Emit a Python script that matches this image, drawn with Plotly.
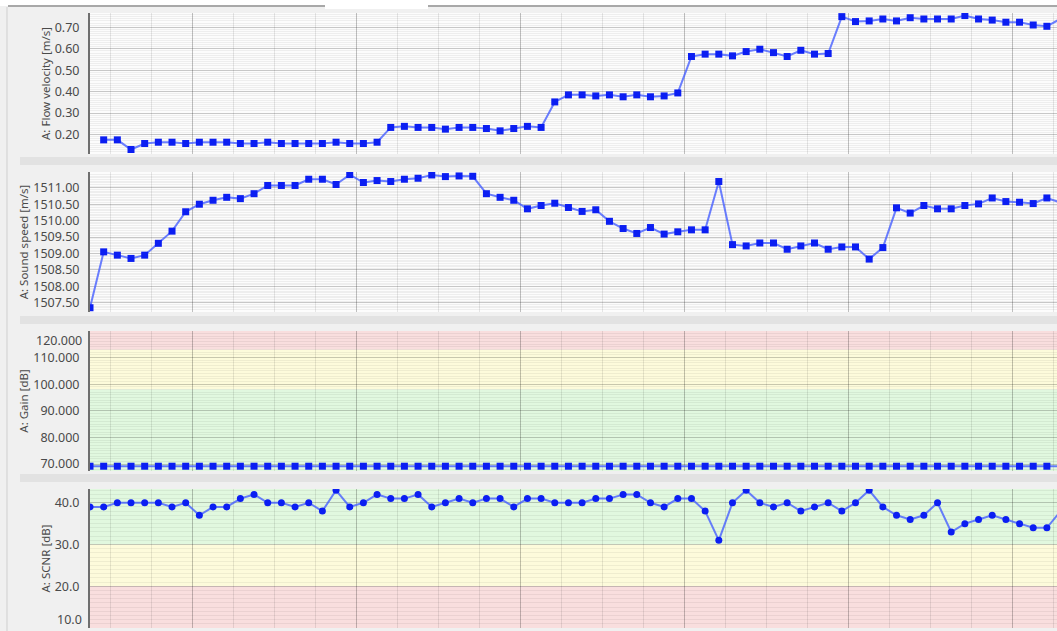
import plotly.graph_objects as go

# ---------------- data ----------------
flow_velocity = [None, 0.175, 0.175, 0.130, 0.158, 0.164, 0.164, 0.158, 0.164, 0.164,
                 0.164, 0.158, 0.158, 0.164, 0.158, 0.158, 0.158, 0.158, 0.164, 0.158,
                 0.158, 0.164, 0.233, 0.238, 0.233, 0.233, 0.225, 0.233, 0.233, 0.228,
                 0.217, 0.228, 0.238, 0.233, 0.352, 0.385, 0.385, 0.380, 0.385, 0.376,
                 0.385, 0.376, 0.380, 0.394, 0.564, 0.575, 0.575, 0.567, 0.587, 0.598,
                 0.582, 0.564, 0.593, 0.575, 0.578, 0.750, 0.727, 0.730, 0.739, 0.730,
                 0.745, 0.739, 0.739, 0.739, 0.755, 0.739, 0.734, 0.724, 0.724, 0.711,
                 0.705, 0.740]

sound_speed = [1507.35, 1509.05, 1508.95, 1508.85, 1508.95, 1509.31, 1509.68, 1510.27, 1510.50, 1510.62,
               1510.71, 1510.67, 1510.82, 1511.07, 1511.07, 1511.07, 1511.26, 1511.26, 1511.10, 1511.40,
               1511.16, 1511.22, 1511.19, 1511.26, 1511.29, 1511.39, 1511.34, 1511.36, 1511.35, 1510.82,
               1510.71, 1510.62, 1510.36, 1510.46, 1510.53, 1510.40, 1510.28, 1510.33, 1509.98, 1509.76,
               1509.61, 1509.79, 1509.59, 1509.66, 1509.72, 1509.72, 1511.19, 1509.27, 1509.23, 1509.32,
               1509.32, 1509.13, 1509.23, 1509.32, 1509.13, 1509.20, 1509.20, 1508.83, 1509.18, 1510.39,
               1510.23, 1510.46, 1510.36, 1510.36, 1510.46, 1510.51, 1510.69, 1510.58, 1510.56, 1510.52,
               1510.69, 1510.55]

gain = [69.2, 69.2, 69.2, 69.2, 69.2, 69.2, 69.2, 69.2, 69.2, 69.2,
        69.2, 69.2, 69.2, 69.2, 69.2, 69.2, 69.2, 69.2, 69.2, 69.2,
        69.2, 69.2, 69.2, 69.2, 69.2, 69.2, 69.2, 69.2, 69.2, 69.2,
        69.2, 69.2, 69.2, 69.2, 69.2, 69.2, 69.2, 69.2, 69.2, 69.2,
        69.2, 69.2, 69.2, 69.2, 69.2, 69.2, 69.2, 69.2, 69.2, 69.2,
        69.2, 69.2, 69.2, 69.2, 69.2, 69.2, 69.2, 69.2, 69.2, 69.2,
        69.2, 69.2, 69.2, 69.2, 69.2, 69.2, 69.2, 69.2, 69.2, 69.2,
        69.2, 69.2]

scnr = [39, 39, 40, 40, 40, 40, 39, 40, 37, 39,
        39, 41, 42, 40, 40, 39, 40, 38, 43, 39,
        40, 42, 41, 41, 42, 39, 40, 41, 40, 41,
        41, 39, 41, 41, 40, 40, 40, 41, 41, 42,
        42, 40, 39, 41, 41, 38, 31, 40, 43, 40,
        39, 40, 38, 39, 40, 38, 40, 43, 39, 37,
        36, 37, 40, 33, 35, 36, 37, 36, 35, 34,
        34, 38]

titles = ["A: Flow velocity [m/s]", "A: Sound speed [m/s]", "A: Gain [dB]", "A: SCNR [dB]"]

# tick values per panel
flow_ticks = [0.2, 0.3, 0.4, 0.5, 0.6, 0.7]
sound_ticks = [1507.5, 1508.0, 1508.5, 1509.0, 1509.5, 1510.0, 1510.5, 1511.0]
gain_ticks = [70, 80, 90, 100, 110]
gain_edge_tick = 120
scnr_ticks = [20, 30, 40]
scnr_edge_tick = 10

# threshold bands (value ranges)
gain_bands = [(113, 120, "red"), (98, 113, "yellow"), (67.4, 98, "green")]
scnr_bands = [(30, 43.3, "green"), (20, 30, "yellow"), (10, 20, "red")]

# ---------------- layout helpers ----------------
W, H = 1057, 631
ML = 90
PW = W - ML


def px_x(px):
    return (px - ML) / PW


def px_y(py):
    return 1 - py / H


panel_px = [(13, 154), (172, 312), (331, 471), (489, 628)]
y_ranges = [[0.109, 0.767], [1507.22, 1511.48], [67.4, 120.0], [10.0, 43.3]]
y_tickvals = [flow_ticks, sound_ticks, gain_ticks, scnr_ticks]
y_minor = [0.01, 0.05, 1, 1]
y_formats = [".2f", ".2f", ".3f", ".1f"]
x_range = [0, 70.74]

band_colors = {"red": "#f9dede", "yellow": "#fdfbdb", "green": "#e1f8df"}

LINE_COLOR = "rgba(70,95,255,0.8)"
MARK_COLOR = "#0b1ef2"
FONT = "Noto Sans"
TXT = "#4a4a4a"

fig = go.Figure()

series = [flow_velocity, sound_speed, gain, scnr]
symbols = ["square", "square", "square", "circle"]
for k, vals in enumerate(series):
    xs = list(range(len(vals)))
    fig.add_trace(go.Scatter(
        x=xs, y=vals, mode="lines+markers",
        line=dict(color=LINE_COLOR, width=2),
        marker=dict(symbol=symbols[k], size=7, color=MARK_COLOR),
        xaxis="x" if k == 0 else f"x{k+1}",
        yaxis="y" if k == 0 else f"y{k+1}",
        showlegend=False, connectgaps=False, hoverinfo="x+y",
    ))

layout = dict(
    width=W, height=H,
    margin=dict(l=ML, r=0, t=0, b=0, autoexpand=False),
    paper_bgcolor="#f0f0f0",
    plot_bgcolor="#fcfcfc",
    font=dict(family=FONT, color=TXT, size=12),
    showlegend=False,
)

for k in range(4):
    top, bot = panel_px[k]
    sfx = "" if k == 0 else str(k + 1)
    layout["xaxis" + sfx] = dict(
        domain=[0, 1], range=x_range, anchor="y" + sfx,
        showticklabels=False, ticks="", zeroline=False, showline=False,
        tick0=7.5, dtick=12, showgrid=True, gridcolor="rgba(0,0,0,0.24)", gridwidth=1,
        minor=dict(tick0=1.5, dtick=3, showgrid=True, gridcolor="rgba(0,0,0,0.09)", gridwidth=1),
        fixedrange=True,
    )
    layout["yaxis" + sfx] = dict(
        domain=[px_y(bot), px_y(top)], range=y_ranges[k], anchor="x" + sfx,
        tickmode="array", tickvals=y_tickvals[k], tickformat=y_formats[k],
        ticks="", ticklabelstandoff=6,
        tickfont=dict(family=FONT, size=12.5, color=TXT),
        showgrid=True, gridcolor="rgba(0,0,0,0.16)", gridwidth=1,
        minor=dict(tick0=0, dtick=y_minor[k], showgrid=True, gridcolor="rgba(0,0,0,0.055)", gridwidth=1),
        showline=True, linecolor="#6f6f6f", linewidth=2, zeroline=False,
        title=dict(text=titles[k], font=dict(family=FONT, size=11.5, color=TXT), standoff=2),
        automargin=False, fixedrange=True,
    )

fig.update_layout(**layout)

# edge tick labels (nudged inside like the original)
fig.add_annotation(text=f"{gain_edge_tick:.3f}", xref="paper", x=0, xanchor="right", xshift=-6,
                   yref="y3", y=gain_edge_tick, yanchor="top", yshift=1, showarrow=False,
                   font=dict(family=FONT, size=12.5, color=TXT))
fig.add_annotation(text=f"{scnr_edge_tick:.1f}", xref="paper", x=0, xanchor="right", xshift=-6,
                   yref="y4", y=scnr_edge_tick, yanchor="bottom", yshift=-2, showarrow=False,
                   font=dict(family=FONT, size=12.5, color=TXT))

shapes = []
# threshold bands
for (y0, y1, c) in gain_bands:
    shapes.append(dict(type="rect", xref="x3 domain", x0=0, x1=1, yref="y3", y0=y0, y1=y1,
                       fillcolor=band_colors[c], line=dict(width=0), layer="below"))
for (y0, y1, c) in scnr_bands:
    shapes.append(dict(type="rect", xref="x4 domain", x0=0, x1=1, yref="y4", y0=y0, y1=y1,
                       fillcolor=band_colors[c], line=dict(width=0), layer="below"))

# panel separators
for (t, b) in [(157, 165), (316, 324), (474, 482)]:
    shapes.append(dict(type="rect", xref="paper", yref="paper",
                       x0=px_x(20), x1=1, y0=px_y(b), y1=px_y(t),
                       fillcolor="#e2e2e2", line=dict(width=0), layer="above"))

# window chrome: top white strip and frame lines
shapes.append(dict(type="rect", xref="paper", yref="paper", x0=px_x(0), x1=1,
                   y0=px_y(6), y1=1, fillcolor="#ffffff", line=dict(width=0)))
shapes.append(dict(type="rect", xref="paper", yref="paper", x0=px_x(325), x1=px_x(428),
                   y0=px_y(9), y1=1, fillcolor="#ffffff", line=dict(width=0)))
shapes.append(dict(type="line", xref="paper", yref="paper", x0=px_x(8), x1=px_x(325),
                   y0=px_y(6), y1=px_y(6), line=dict(color="#a8a8a8", width=2)))
shapes.append(dict(type="line", xref="paper", yref="paper", x0=px_x(428), x1=1,
                   y0=px_y(6), y1=px_y(6), line=dict(color="#a8a8a8", width=2)))
shapes.append(dict(type="line", xref="paper", yref="paper", x0=px_x(7), x1=px_x(7),
                   y0=0, y1=px_y(7), line=dict(color="#cfcfcf", width=1)))

fig.update_layout(shapes=shapes)

fig.write_html(
    "out.html",
    config={"displayModeBar": False},
    post_script="document.body.style.margin='0';document.body.style.overflow='hidden';",
)
